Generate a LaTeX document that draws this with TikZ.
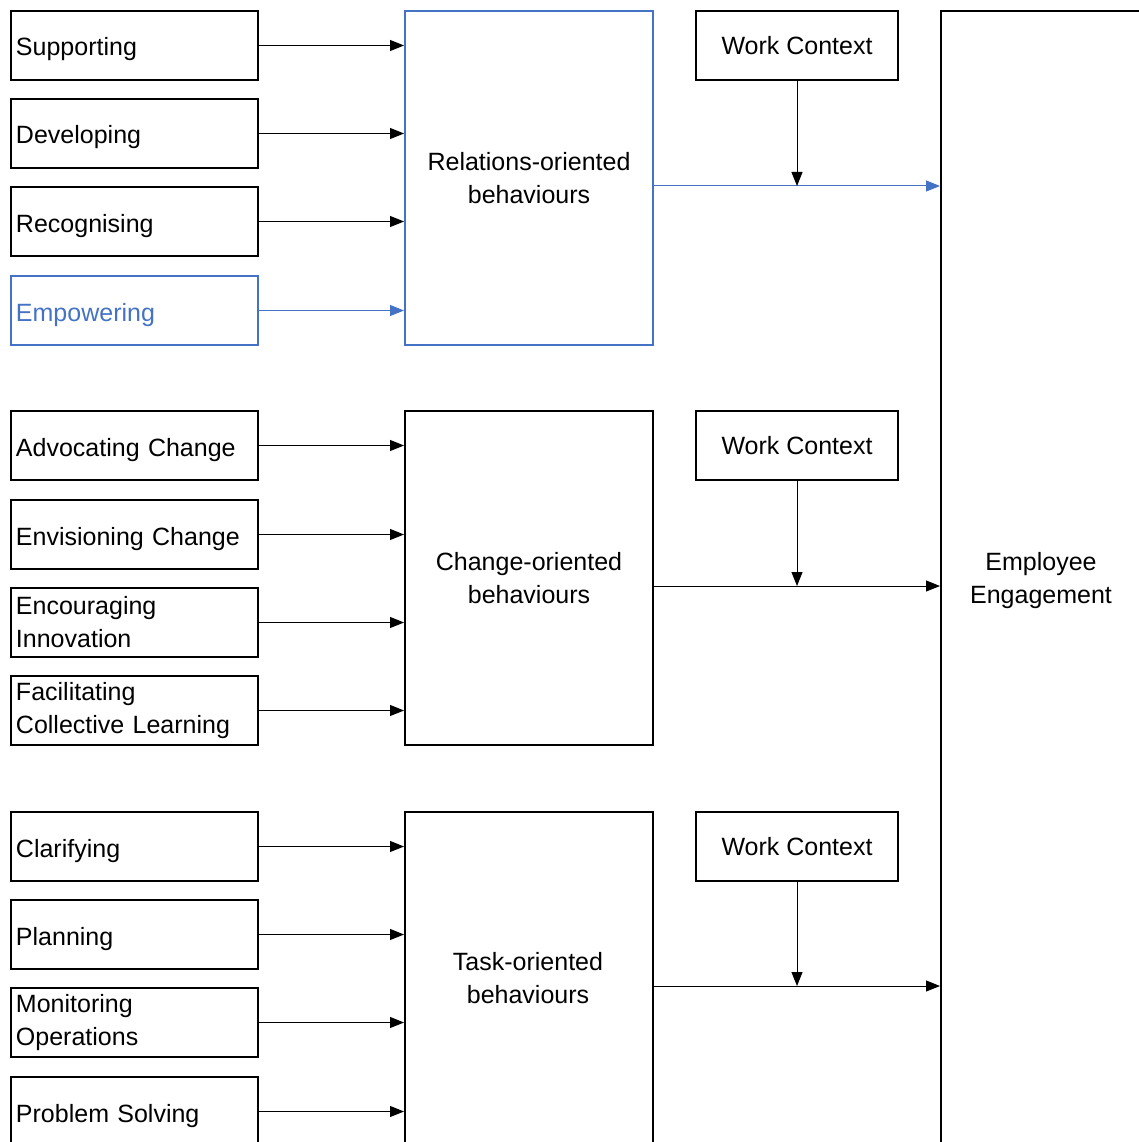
\documentclass[tikz,border=0pt]{standalone}
\usepackage{fontspec}
\setmainfont{Liberation Sans}
\usetikzlibrary{arrows.meta}
\definecolor{bl}{HTML}{4472C4}
\begin{document}
\begin{tikzpicture}[x=1pt,y=-1pt,
  every node/.style={font=\fontsize{25}{33}\selectfont},
  lbox/.style={draw,line width=2pt,minimum width=247pt,minimum height=69pt,anchor=north west,inner xsep=5pt,text width=237pt,align=left,inner ysep=0pt},
  onel/.style={text height=23pt,text depth=2pt},
  mbox/.style={draw,line width=2pt,minimum width=248pt,anchor=north west,align=center},
  wbox/.style={draw,line width=2pt,minimum width=202pt,minimum height=69pt,anchor=north west,align=center},
  txt/.style={align=center},
  arr/.style={line width=1pt,-{Triangle[length=14pt,width=11pt]}}]
\useasboundingbox (0,0) rectangle (1139,1142);
% left boxes
\node[lbox,onel] (s1) at (10,10) {Supporting};
\node[lbox,onel] (s2) at (10,98) {Developing};
\node[lbox,onel] (s3) at (10,186) {Recognising};
\node[lbox,onel,draw=bl,text=bl] (s4) at (10,275) {Empowering};
\node[lbox,onel] (c1) at (10,410) {Advocating Change};
\node[lbox,onel] (c2) at (10,499) {Envisioning Change};
\node[lbox] (c3) at (10,587) {Encouraging\\Innovation};
\node[lbox] (c4) at (10,675) {Facilitating\\Collective Learning};
\node[lbox,onel] (t1) at (10,811) {Clarifying};
\node[lbox,onel] (t2) at (10,899) {Planning};
\node[lbox] (t3) at (10,987) {Monitoring\\Operations};
\node[lbox,onel] (t4) at (10,1076) {Problem Solving};
% middle boxes
\node[mbox,draw=bl,minimum height=334pt] (m1) at (404,10) {Relations-oriented\\behaviours};
\node[mbox,minimum height=334pt] (m2) at (404,410) {Change-oriented\\behaviours};
\node[mbox,minimum height=350pt] (m3) at (404,811) {};
\node[txt] (m3t) at (528,978) {Task-oriented\\behaviours};
% work context
\node[wbox] (w1) at (695,10) {Work Context};
\node[wbox] (w2) at (695,410) {Work Context};
\node[wbox] (w3) at (695,811) {Work Context};
% employee engagement
\node[draw,line width=2pt,minimum width=202pt,minimum height=1160pt,anchor=north west] (e) at (940,10) {};
\node[txt] (et) at (1041,581) {Employee\\Engagement};
% arrows left -> middle
\foreach \a/\m in {s1/m1,s2/m1,s3/m1,c1/m2,c2/m2,c3/m2,c4/m2,t1/m3,t2/m3,t3/m3,t4/m3}
  \draw[arr] (\a.east) -- (\m.west|-\a.east);
\draw[arr,bl] (s4.east) -- (m1.west|-s4.east);
% junctions
\coordinate (j1) at (w1.south |- 0,186);
\coordinate (j2) at (w2.south |- 0,586);
\coordinate (j3) at (w3.south |- 0,986);
\draw[arr,bl] (m1.east|-j1) -- (e.west|-j1);
\draw[arr] (m2.east|-j2) -- (e.west|-j2);
\draw[arr] (m3.east|-j3) -- (e.west|-j3);
\draw[arr] (w1.south) -- (j1);
\draw[arr] (w2.south) -- (j2);
\draw[arr] (w3.south) -- (j3);
\end{tikzpicture}
\end{document}
